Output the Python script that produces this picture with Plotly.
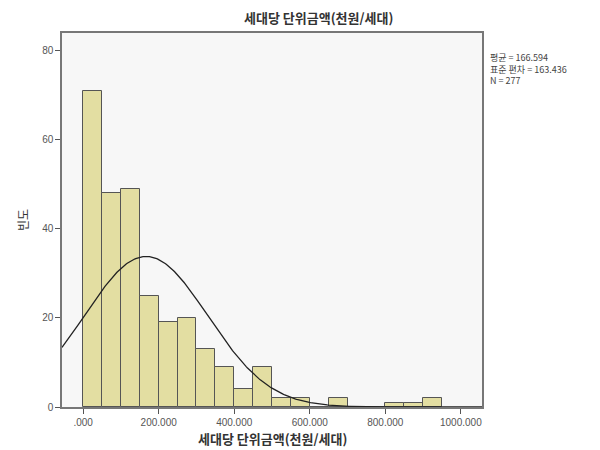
import numpy as np
import plotly.graph_objects as go

bin_starts = [0, 50, 100, 150, 200, 250, 300, 350, 400, 450, 500, 550, 600, 650, 700, 750, 800, 850, 900]
counts = [71, 48, 49, 25, 19, 20, 13, 9, 4, 9, 2, 2, 0, 2, 0, 0, 1, 1, 2]
bin_width = 50
mean_val = 166.594
sd_val = 163.436
n_val = 277
x_ticks = [0, 200, 400, 600, 800, 1000]
x_tick_labels = [".000", "200.000", "400.000", "600.000", "800.000", "1000.000"]
y_ticks = [0, 20, 40, 60, 80]

title_text = "세대당 단위금액(천원/세대)"
kfont = "Noto Sans CJK KR"

centers = [s + bin_width / 2 for s in bin_starts]

xs = np.linspace(-56, 1056, 400)
ys = n_val * bin_width * np.exp(-0.5 * ((xs - mean_val) / sd_val) ** 2) / (sd_val * np.sqrt(2 * np.pi))

fig = go.Figure()
fig.add_trace(go.Bar(
    x=centers, y=counts, width=bin_width,
    marker=dict(color="#E3DEA2", line=dict(color="#555555", width=1)),
    showlegend=False, hoverinfo="skip",
))
fig.add_trace(go.Scatter(
    x=xs, y=ys, mode="lines", line=dict(color="#222222", width=1.3),
    showlegend=False, hoverinfo="skip",
))

plot_w = 420
plot_h = 374

fig.update_layout(
    width=592, height=442,
    margin=dict(l=54, r=118, t=25, b=43),
    paper_bgcolor="white", plot_bgcolor="#F7F7F7",
    bargap=0,
    font=dict(family="Liberation Sans, Arial", size=10, color="#555555"),
    xaxis=dict(
        range=[-56, 1056], tickvals=x_ticks, ticktext=x_tick_labels,
        showgrid=False, zeroline=False, ticks="outside", ticklen=5, tickcolor="#555555",
        showline=True, linecolor="#777777", linewidth=1.5, mirror=True,
        tickfont=dict(size=10, color="#555555"),
    ),
    yaxis=dict(
        range=[0, 84], tickvals=y_ticks,
        showgrid=False, zeroline=False, ticks="outside", ticklen=5, tickcolor="#555555",
        showline=True, linecolor="#777777", linewidth=1.5, mirror=True,
        tickfont=dict(size=10, color="#555555"),
    ),
    annotations=[
        dict(text="<b>" + title_text + "</b>", x=(318 - 62) / plot_w, y=1.0 + 16 / plot_h,
             xref="paper", yref="paper", xanchor="center", yanchor="middle",
             showarrow=False, font=dict(family=kfont, size=13, color="#333333")),
        dict(text="<b>" + title_text + "</b>", x=(272 - 62) / plot_w, y=-31 / plot_h,
             xref="paper", yref="paper", xanchor="center", yanchor="middle", showarrow=False,
             font=dict(family=kfont, size=13, color="#333333")),
        dict(text="빈도", x=-40 / plot_w, y=0.5, xref="paper", yref="paper", textangle=-90,
             xanchor="center", yanchor="middle",
             showarrow=False, font=dict(family=kfont, size=12, color="#333333")),
        dict(text="평균 = %.3f<br>표준 편차 = %.3f<br>N = %d" % (mean_val, sd_val, n_val),
             x=1.015, y=1 - 16 / plot_h, xref="paper", yref="paper", xanchor="left", yanchor="top",
             align="left", showarrow=False,
             font=dict(family=kfont, size=9, color="#444444")),
    ],
)

fig.write_html("out.html")
